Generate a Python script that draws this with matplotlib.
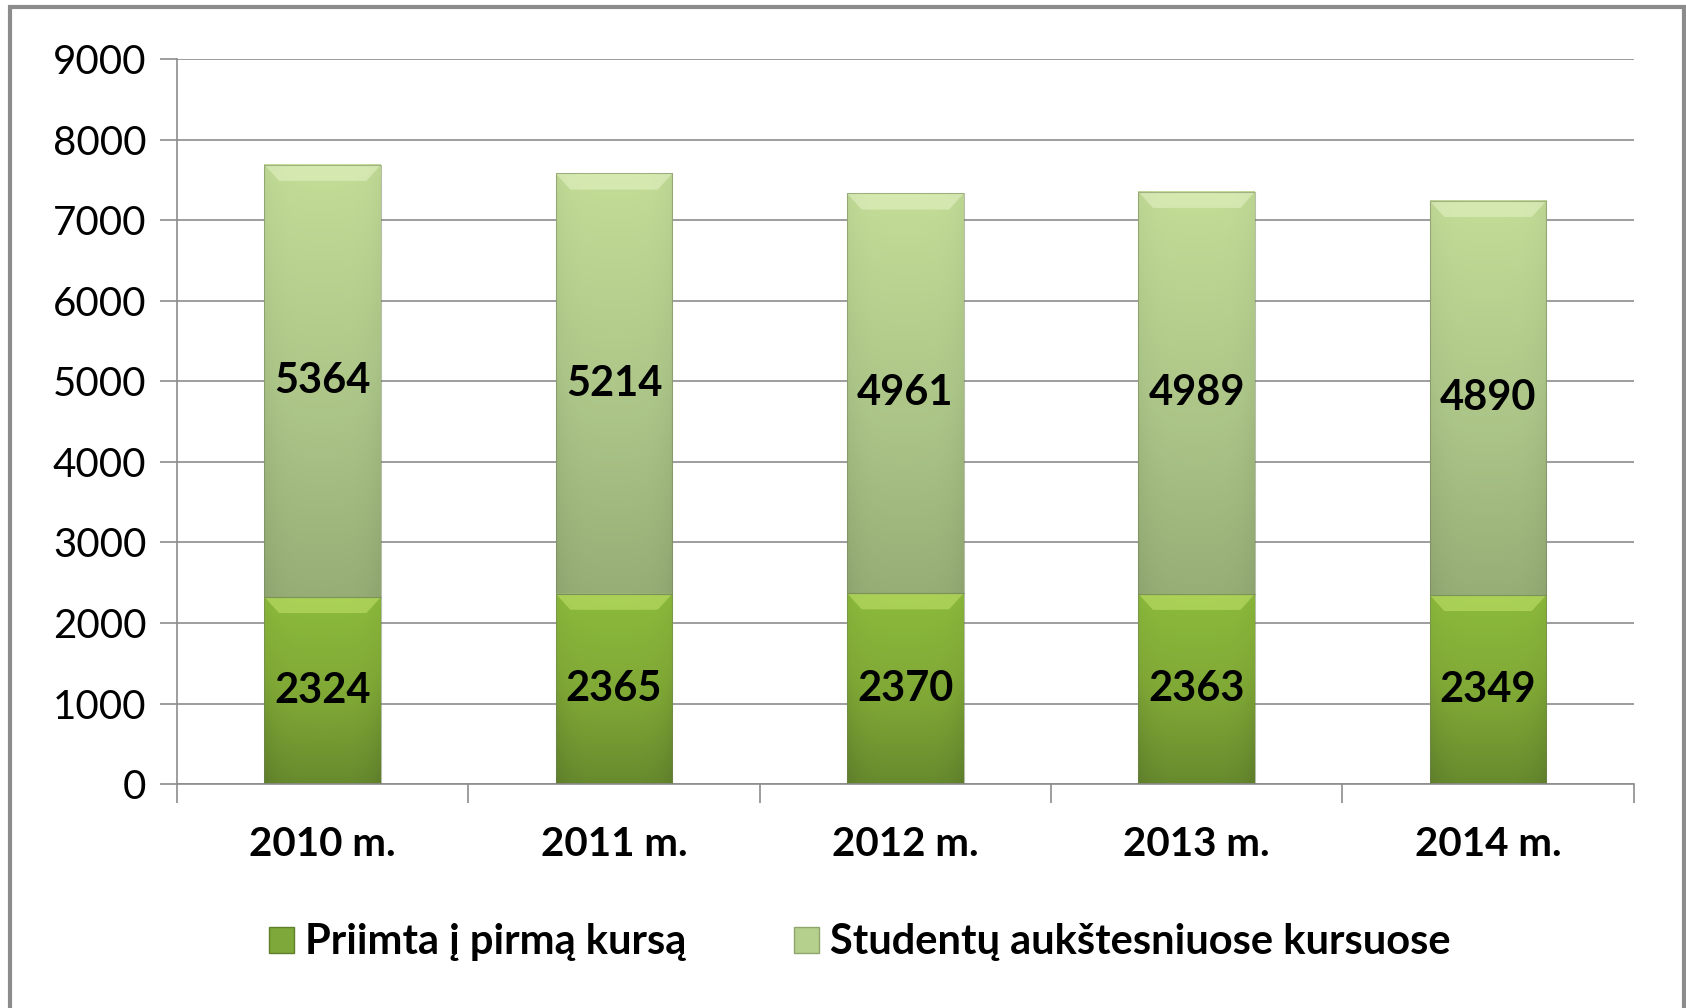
import numpy as np
import matplotlib.pyplot as plt
from matplotlib.patches import Rectangle, Polygon
from matplotlib.colors import LinearSegmentedColormap

plt.rcParams['font.family'] = ['Lato', 'DejaVu Sans']

years = ['2010 m.', '2011 m.', '2012 m.', '2013 m.', '2014 m.']
first_year = [2324, 2365, 2370, 2363, 2349]
upper_years = [5364, 5214, 4961, 4989, 4890]
series_names = ['Priimta į pirmą kursą', 'Studentų aukštesniuose kursuose']

fig = plt.figure(figsize=(16.86, 10.08), dpi=100)
ax = fig.add_axes([0.105, 0.222, 0.864, 0.7195])

# gradients: light top -> dark bottom
cmap_low = LinearSegmentedColormap.from_list('low', ['#8cbb3c', '#7ea635', '#5f7f2b'])
cmap_up = LinearSegmentedColormap.from_list('up', ['#c3dc96', '#abc487', '#8fa570'])

x = np.arange(len(years))
width = 0.40
bevel = 0.05


def draw_bar(xc, y0, h, cmap, top_col):
    x0, x1 = xc - width / 2, xc + width / 2
    # vertical gradient with slightly darker side edges
    rows = np.linspace(0, 1, 64)[:, None]
    cols = np.linspace(-1, 1, 32)[None, :]
    grad = rows * 0.85 + 0.15 * np.abs(cols) ** 4
    ax.imshow(grad, cmap=cmap, vmin=0, vmax=1, aspect='auto',
              extent=(x0, x1, y0, y0 + h), origin='upper', zorder=2,
              interpolation='bilinear')
    # bevelled top edge
    dy = 200
    ax.add_patch(Polygon([(x0, y0 + h), (x1, y0 + h), (x1 - bevel, y0 + h - dy),
                          (x0 + bevel, y0 + h - dy)], closed=True,
                         facecolor=top_col, edgecolor='none', alpha=0.55, zorder=3))
    ax.add_patch(Rectangle((x0, y0), width, h, fill=False, edgecolor='#6f7f5a',
                           linewidth=0.8, alpha=0.5, zorder=4))


for i in x:
    draw_bar(i, 0, first_year[i], cmap_low, '#c4e36e')
    draw_bar(i, first_year[i], upper_years[i], cmap_up, '#e6f4c8')
    ax.text(i, first_year[i] / 2, str(first_year[i]), ha='center', va='center',
            fontsize=30, fontweight='bold', color='black', zorder=5)
    ax.text(i, first_year[i] + upper_years[i] / 2, str(upper_years[i]), ha='center',
            va='center', fontsize=30, fontweight='bold', color='black', zorder=5)

ax.set_xlim(-0.5, len(years) - 0.5)
ax.set_ylim(0, 9000)
ax.set_yticks(np.arange(0, 9001, 1000))
ax.tick_params(axis='y', labelsize=29, length=12, width=1.2, color='#8c8c8c', pad=10)
ax.set_xticks(x)
ax.set_xticklabels(years, fontsize=29, fontweight='bold')
ax.tick_params(axis='x', length=0, pad=30)
ax.set_xticks(np.arange(-0.5, len(years), 1), minor=True)
ax.tick_params(axis='x', which='minor', length=14, width=1.2, color='#8c8c8c')

ax.grid(axis='y', color='#8c8c8c', linewidth=1.2, zorder=0)
ax.set_axisbelow(True)
for s in ['top', 'right']:
    ax.spines[s].set_visible(False)
for s in ['left', 'bottom']:
    ax.spines[s].set_color('#8c8c8c')
    ax.spines[s].set_linewidth(1.2)

handles = [Rectangle((0, 0), 1, 1, facecolor='#7fa83a', edgecolor='#5f7f2a'),
           Rectangle((0, 0), 1, 1, facecolor='#b5cf8c', edgecolor='#8fa56e')]
fig.legend(handles, series_names, loc='center', bbox_to_anchor=(0.51, 0.065),
           ncol=2, frameon=False, prop={'size': 30, 'weight': 'bold'},
           handlelength=0.6, handleheight=0.6, handletextpad=0.25, columnspacing=2.6)

# outer chart frame
fig.add_artist(Rectangle((10 / 1686, -0.02), 1674 / 1686, 1.02 - 7 / 1008,
                         transform=fig.transFigure, fill=False,
                         edgecolor='#8c8c8c', linewidth=3))

fig.savefig('out.png', dpi=100)
